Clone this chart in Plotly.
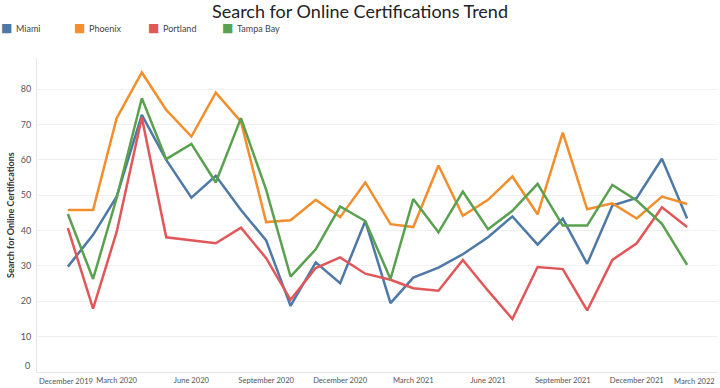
import pandas as pd
import plotly.graph_objects as go

months = pd.date_range("2020-01-01", periods=26, freq="MS")
miami = [29.8, 38.8, 49.6, 72.7, 60.0, 49.3, 55.5, 45.8, 37.2, 18.7, 31.0, 25.1, 42.7,
         19.5, 26.7, 29.5, 33.3, 38.1, 44.0, 36.0, 43.4, 30.6, 47.1, 49.2, 60.3, 43.4]
phoenix = [45.8, 45.8, 71.8, 84.7, 74.1, 66.6, 79.0, 70.8, 42.4, 42.9, 48.7, 43.8, 53.6,
           41.8, 41.0, 58.4, 44.2, 48.7, 55.3, 44.6, 67.7, 46.0, 47.7, 43.4, 49.6, 47.5]
portland = [40.7, 17.9, 39.6, 72.0, 38.1, 37.3, 36.4, 40.8, 32.2, 20.4, 29.4, 32.4, 27.8,
            26.1, 23.7, 23.0, 31.7, 23.0, 15.0, 29.7, 29.1, 17.4, 31.7, 36.4, 46.6, 41.0]
tampa_bay = [44.7, 26.3, 49.2, 77.4, 60.2, 64.5, 53.6, 71.8, 51.5, 27.0, 34.7, 46.8, 42.7,
             26.3, 48.9, 39.5, 51.0, 40.4, 45.6, 53.2, 41.4, 41.4, 52.9, 48.5, 41.9, 30.3]

series_names = ["Miami", "Phoenix", "Portland", "Tampa Bay"]
series_values = [miami, phoenix, portland, tampa_bay]
colors = ["#4e79a7", "#f28e2b", "#e15759", "#59a14f"]

tick_dates = ["2019-12-01", "2020-03-01", "2020-06-01", "2020-09-01", "2020-12-01",
              "2021-03-01", "2021-06-01", "2021-09-01", "2021-12-01", "2022-03-01"]
tick_labels = ["December 2019", "March 2020", "June 2020", "September 2020", "December 2020",
               "March 2021", "June 2021", "September 2021", "December 2021", "March 2022"]
y_ticks = [0, 10, 20, 30, 40, 50, 60, 70, 80]
y_labels = [str(v) for v in y_ticks]

FONT = "Lato"
W, H = 720, 388
ML, MR, MT, MB = 37, 2, 58, 16
PW = W - ML - MR
PH = H - MT - MB
XFONT = dict(family=FONT, size=7.6, color="#555")
YFONT = dict(family=FONT, size=9, color="#555")

fig = go.Figure()
for name, vals, col in zip(series_names, series_values, colors):
    fig.add_trace(go.Scatter(x=months, y=vals, mode="lines", name=name,
                             line=dict(color=col, width=2.5), showlegend=False))

# edge labels are pulled inside the pane like the original
inner_text = [""] + tick_labels[1:-1] + [""]
y_inner = [""] + y_labels[1:]

annotations = [
    dict(text=tick_labels[0], xref="paper", yref="paper", x=0, y=0, xanchor="left",
         yanchor="top", yshift=-2, showarrow=False, font=XFONT),
    dict(text=tick_labels[-1], xref="paper", yref="paper", x=(717 - ML) / PW, y=0,
         xanchor="right", yanchor="top", yshift=-2, showarrow=False, font=XFONT),
    dict(text=y_labels[0], xref="paper", yref="paper", x=(32 - ML) / PW, y=0,
         xanchor="right", yanchor="bottom", yshift=-1, showarrow=False, font=YFONT),
    dict(text="<b>Search for Online Certifications</b>", xref="paper", yref="paper",
         x=(10 - ML) / PW, y=0.5, textangle=-90, xanchor="center", yanchor="middle",
         showarrow=False, font=dict(family=FONT, size=9, color="#333")),
]

# legend (square swatches + names)
legend_sq_x = [6, 79, 153, 227]
legend_tx_x = [14, 87, 161, 235]
ly = (H - MB - 28) / PH
for name, col, sx, tx in zip(series_names, colors, legend_sq_x, legend_tx_x):
    annotations.append(dict(text="■", xref="paper", yref="paper", x=(sx - ML) / PW, y=ly,
                            xanchor="center", yanchor="middle", showarrow=False,
                            font=dict(family="DejaVu Sans", size=12, color=col)))
    annotations.append(dict(text=name, xref="paper", yref="paper", x=(tx - ML) / PW, y=ly,
                            xanchor="left", yanchor="middle", showarrow=False,
                            font=dict(family=FONT, size=9, color="#444")))

fig.update_layout(
    width=W, height=H,
    margin=dict(l=ML, r=MR, t=MT, b=MB),
    paper_bgcolor="white", plot_bgcolor="white",
    title=dict(text="Search for Online Certifications Trend", x=0.5, xref="container",
               xanchor="center", y=1 - 11.5 / H, yanchor="middle",
               font=dict(family=FONT, size=18, color="#222")),
    font=dict(family=FONT, size=9, color="#555"),
    annotations=annotations,
    xaxis=dict(type="date", range=["2019-11-24", "2022-03-11"],
               tickmode="array", tickvals=tick_dates, ticktext=inner_text,
               showgrid=False, showline=True, linecolor="#e6e6e6", linewidth=1,
               ticks="", tickfont=XFONT, zeroline=False, automargin=False,
               ticklabelstandoff=1),
    yaxis=dict(range=[0, 88.8], tickmode="array", tickvals=y_ticks, ticktext=y_inner,
               showgrid=True, gridcolor="#f0f0f0", gridwidth=1,
               showline=True, linecolor="#e6e6e6", linewidth=1,
               zeroline=False, ticks="", ticklabelstandoff=3, automargin=False,
               tickfont=YFONT),
    hovermode="x unified",
)

fig.write_html("out.html", post_script="document.body.style.margin='0';",
               config={"displayModeBar": False})
